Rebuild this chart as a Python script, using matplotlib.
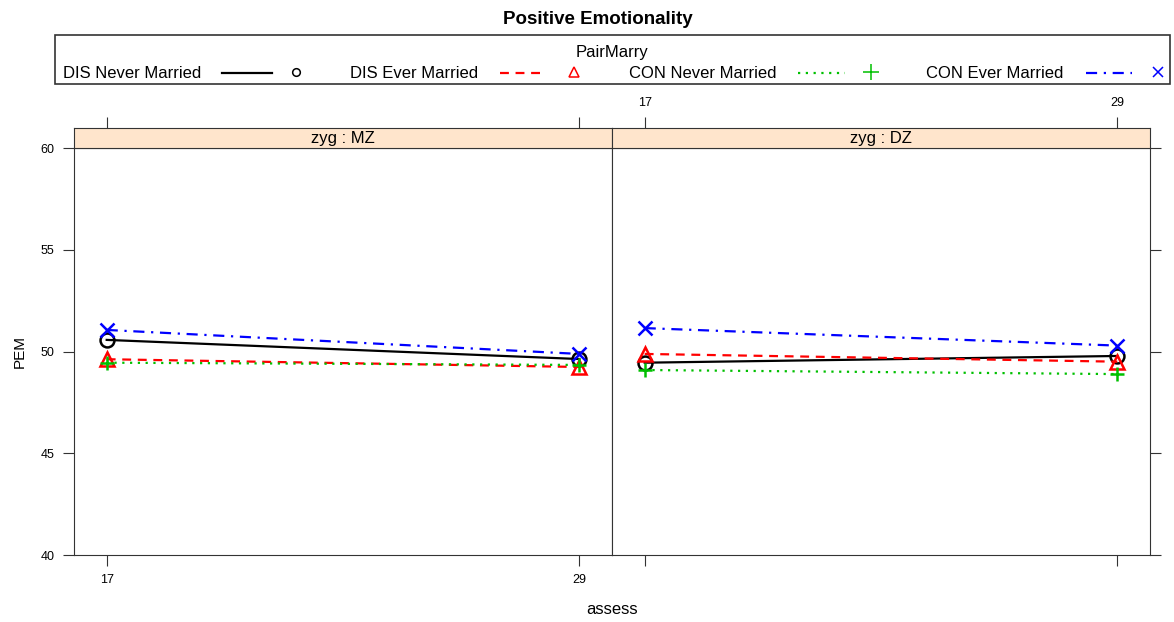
import matplotlib
matplotlib.use("Agg")
import matplotlib.pyplot as plt
from matplotlib.patches import Rectangle
from matplotlib.lines import Line2D

plt.rcParams["font.family"] = ["Liberation Sans", "DejaVu Sans"]

# data
assess = [17, 29]
panels = ["zyg : MZ", "zyg : DZ"]
groups = ["DIS Never Married", "DIS Ever Married", "CON Never Married", "CON Ever Married"]
pem_mz = {
    "DIS Never Married": [50.57, 49.63],
    "DIS Ever Married": [49.62, 49.24],
    "CON Never Married": [49.45, 49.34],
    "CON Ever Married": [51.06, 49.88],
}
pem_dz = {
    "DIS Never Married": [49.45, 49.78],
    "DIS Ever Married": [49.88, 49.50],
    "CON Never Married": [49.09, 48.89],
    "CON Ever Married": [51.15, 50.29],
}
y_ticks = [40, 45, 50, 55, 60]

STYLE = {
    "DIS Never Married": dict(color="black", ls="-", marker="o"),
    "DIS Ever Married": dict(color="#ff0000", ls=(0, (4, 3)), marker="^"),
    "CON Never Married": dict(color="#00c000", ls=(0, (1, 2.5)), marker="+"),
    "CON Ever Married": dict(color="#0000ff", ls=(0, (5, 3, 1, 3)), marker="x"),
}

W, H = 1174, 622
fig = plt.figure(figsize=(W / 100, H / 100), dpi=100)

def fx(px):
    return px / W

def fy(py):
    return 1 - py / H

AX_EDGE = "#333333"
x0, xmid, x1 = 74, 612, 1150
ytop, ybot, strip_top = 148, 555, 128
xlim = (16.17, 29.83)

for i, (name, data) in enumerate(zip(panels, [pem_mz, pem_dz])):
    left = x0 if i == 0 else xmid
    right = xmid if i == 0 else x1
    ax = fig.add_axes([fx(left), fy(ybot), fx(right - left), fy(ytop) - fy(ybot)])
    for g in groups:
        st = STYLE[g]
        ax.plot(assess, data[g], color=st["color"], linestyle=st["ls"], linewidth=1.6,
                marker=st["marker"], markersize=10, markerfacecolor="none",
                markeredgecolor=st["color"], markeredgewidth=1.8, clip_on=False)
    ax.set_xlim(*xlim)
    ax.set_ylim(40, 60)
    ax.set_xticks(assess)
    ax.set_yticks(y_ticks)
    for s in ax.spines.values():
        s.set_color(AX_EDGE)
    ax.tick_params(direction="out", length=8, colors=AX_EDGE, labelcolor="black",
                   labelsize=9, pad=6)
    if i == 0:
        ax.tick_params(axis="y", left=True, right=False, labelleft=True)
        ax.tick_params(axis="x", bottom=True, labelbottom=True)
        ax.set_ylabel("PEM", fontsize=11, labelpad=10)
    else:
        ax.tick_params(axis="y", left=False, right=True, labelleft=False, labelright=False)
        ax.tick_params(axis="x", bottom=True, labelbottom=False)

    # strip
    sax = fig.add_axes([fx(left), fy(ytop), fx(right - left), fy(strip_top) - fy(ytop)])
    sax.set_facecolor("#ffe5cc")
    sax.set_xlim(*xlim)
    sax.set_yticks([])
    sax.set_xticks(assess)
    for s in sax.spines.values():
        s.set_color(AX_EDGE)
    sax.tick_params(axis="x", bottom=False, top=True, labelbottom=False,
                    labeltop=(i == 1), direction="out", length=8,
                    colors=AX_EDGE, labelcolor="black", labelsize=9, pad=6)
    sax.text(0.5, 0.45, name, transform=sax.transAxes, ha="center", va="center",
             fontsize=12)

fig.text(fx((x0 + x1) / 2), fy(610), "assess", ha="center", va="center", fontsize=12)
fig.text(fx(598), fy(19), "Positive Emotionality", ha="center", va="center",
         fontsize=13.5, fontweight="bold")

# legend (text, then line sample, then point symbol)
ov = fig.add_axes([0, 0, 1, 1])
ov.set_xlim(0, W)
ov.set_ylim(H, 0)
ov.axis("off")
ov.add_patch(Rectangle((55, 35), 1115, 49, fill=False, edgecolor="#333333", linewidth=1.2))
ov.text(612, 53, "PairMarry", ha="center", va="center", fontsize=12)
text_x = [63, 350, 629, 926]
line_x = [(222, 272), (500, 545), (798, 845), (1086, 1132)]
mark_x = [296, 574, 871, 1158]
msizes = [5.5, 7, 11, 7]
for g, tx, (la, lb), mx, ms in zip(groups, text_x, line_x, mark_x, msizes):
    st = STYLE[g]
    ov.text(tx, 74, g, ha="left", va="center", fontsize=12)
    ov.add_line(Line2D([la, lb], [73, 73], color=st["color"], linestyle=st["ls"], linewidth=1.6))
    ov.add_line(Line2D([mx], [72], marker=st["marker"], markersize=ms,
                       markerfacecolor="none", markeredgecolor=st["color"],
                       markeredgewidth=1.1, linestyle="none"))

fig.savefig("out.png", dpi=100, facecolor="white")
